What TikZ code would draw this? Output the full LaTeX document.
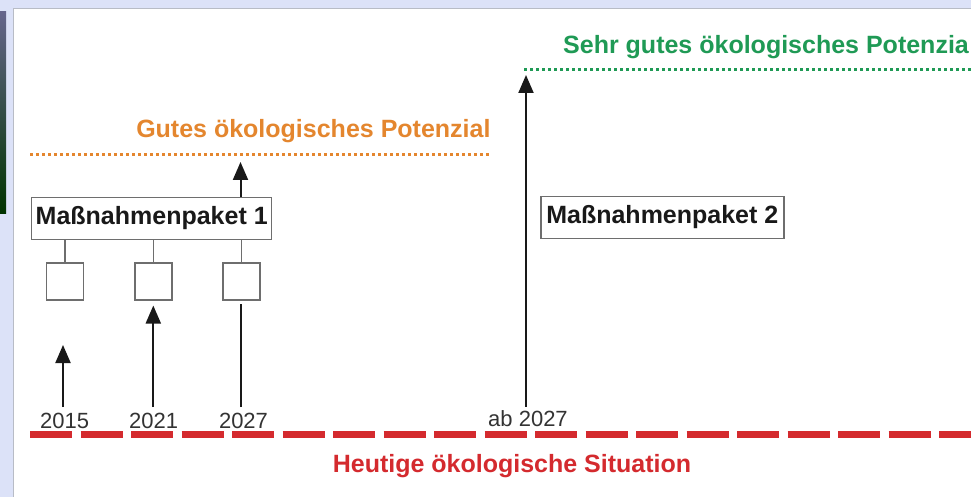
\documentclass[tikz,border=0pt]{standalone}
\usepackage{fontspec}
\setmainfont{Liberation Sans}
\usetikzlibrary{arrows.meta}
\definecolor{bgblue}{HTML}{DCE2F8}
\definecolor{framegray}{HTML}{B8BCC6}
\definecolor{boxgray}{HTML}{6E6E6E}
\definecolor{txtorange}{HTML}{E4862E}
\definecolor{txtgreen}{HTML}{1F9A55}
\definecolor{txtred}{HTML}{D42A2E}
\definecolor{txtdark}{HTML}{333333}
\tikzset{
  pktbox/.style={draw=boxgray, line width=1.5pt, fill=white, minimum width=240pt, minimum height=42pt, inner sep=0pt, font=\fontsize{25}{30}\selectfont\bfseries, text=black!90},
  smallsq/.style={draw=boxgray, line width=1.5pt, fill=white, minimum width=37pt, minimum height=37pt, inner sep=0pt},
  tie/.style={draw=boxgray, line width=1.5pt},
  uparrow/.style={draw=black!90, line width=2pt, -{Triangle[width=15pt,length=18pt]}},
  plainline/.style={draw=black!90, line width=2pt},
  yearlbl/.style={anchor=base, inner sep=0pt, text=txtdark, font=\fontsize{22}{26}\selectfont},
  biglbl/.style={inner sep=0pt, font=\fontsize{25}{30}\selectfont\bfseries},
  dotline/.style={line width=3pt, dash pattern=on 3pt off 3pt},
}
\begin{document}
\begin{tikzpicture}[x=1pt,y=-1pt]
\useasboundingbox (0,0) rectangle (971,497);
\fill[bgblue] (0,0) rectangle (971,497);
\shade[top color=black!75!blue!60, middle color=green!35!black!80, bottom color=black!80!green] (0,12) rectangle (6,213);
\fill[white] (13,8) rectangle (971,497);
\draw[framegray, line width=1.5pt] (13.5,497) -- (13.5,8.5) -- (971,8.5);
\begin{scope}
\clip (13,8) rectangle (971,497);

% target levels
\coordinate (og0) at (30,154.5);
\coordinate (og1) at (490,154.5);
\draw[txtorange, dotline] (og0) -- (og1);
\node[biglbl, text=txtorange, anchor=base east] (gut) at (490.7,138) {Gutes ökologisches Potenzial};

\coordinate (gr0) at (524,69.5);
\coordinate (gr1) at (980,69.5);
\draw[txtgreen, dotline] (gr0) -- (gr1);
\node[biglbl, text=txtgreen, anchor=base west] (sehr) at (563,53.5) {Sehr gutes ökologisches Potenzia};

% present situation
\coordinate (rd0) at (30,434);
\coordinate (rd1) at (980,434);
\draw[txtred, line width=7pt, dash pattern=on 42.2pt off 8.3pt] (rd0) -- (rd1);
\node[biglbl, text=txtred, anchor=base] (heute) at (512,472.7) {Heutige ökologische Situation};

% packages
\node[pktbox] (p1) at (151.7,218.3) {Maßnahmenpaket 1};
\node[pktbox, minimum width=243pt] (p2) at (662.3,217.5) {Maßnahmenpaket 2};

\node[smallsq] (s1) at (65,281.3) {};
\node[smallsq] (s2) at (153.3,281.3) {};
\node[smallsq] (s3) at (241.3,281.3) {};
\draw[tie] (s1.north) -- (s1.north |- p1.south);
\draw[tie] (s2.north) -- (s2.north |- p1.south);
\draw[tie] (s3.north) -- (s3.north |- p1.south);

% years
\node[yearlbl] (y1) at (64.7,428.3) {2015};
\node[yearlbl] (y2) at (153.7,428.3) {2021};
\node[yearlbl] (y3) at (243.5,428.3) {2027};
\node[yearlbl] (y4) at (528,426.7) {ab 2027};

\coordinate (t1) at (63,345);
\coordinate (t3) at (240.5,162);
\coordinate (t4) at (526,75);

\draw[uparrow, shorten <=5.5pt] (y1.north -| t1) -- (t1);
\draw[uparrow, shorten <=5.5pt, shorten >=5pt] (y2.north -| s2) -- (s2.south);
\draw[plainline, shorten <=5.5pt, shorten >=3pt] (y3.north -| t3) -- (s3.south -| t3);
\draw[uparrow] (p1.north -| t3) -- (t3);
\draw[uparrow, shorten <=4pt] (y4.north -| t4) -- (t4);
\end{scope}
\end{tikzpicture}
\end{document}
